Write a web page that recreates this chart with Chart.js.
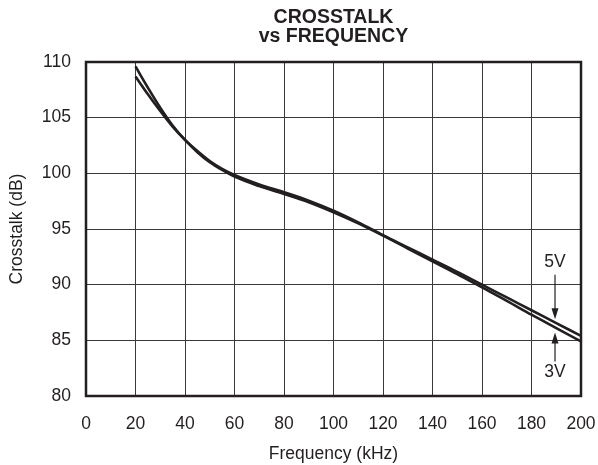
<!DOCTYPE html>
<html>
<head>
<meta charset="utf-8">
<script src="https://cdn.jsdelivr.net/npm/chart.js@4/dist/chart.umd.min.js"></script>
<style>
  html, body { margin: 0; padding: 0; background: #fff; }
  #wrap { width: 598px; height: 465px; }
</style>
</head>
<body>
<div id="wrap"><canvas id="crosstalk_chart" width="598" height="465"></canvas></div>
<script>
// values
var freqKHz = [20, 25, 30, 35, 40, 45, 50, 55, 60, 70, 80, 90, 100, 110, 120, 130, 140, 150, 160, 170, 180, 190, 200];
var crosstalk5V = [108.7, 107.1, 105.6, 104.2, 103.0, 102.0, 101.1, 100.4, 99.85, 99.0, 98.3, 97.55, 96.65, 95.6, 94.45, 93.35, 92.25, 91.15, 90.0, 88.85, 87.7, 86.55, 85.4];
var crosstalk3V = [109.6, 107.7, 105.9, 104.3, 103.0, 101.9, 101.0, 100.3, 99.7, 98.85, 98.15, 97.4, 96.5, 95.5, 94.4, 93.25, 92.1, 90.95, 89.75, 88.55, 87.3, 86.1, 84.9];
var xTicks = [0, 20, 40, 60, 80, 100, 120, 140, 160, 180, 200];
var yTicks = [80, 85, 90, 95, 100, 105, 110];
var titleLines = ['CROSSTALK', 'vs FREQUENCY'];

// supply labels with arrows: [label, text at dB, arrow from dB, arrow tip dB]
var markerFreq = 189.5;
var markers = [
	['5V', 92.0, 90.9, 86.9],
	['3V', 82.1, 83.1, 85.7]
];

var ink = '#231f20';
var fontFam = '"Liberation Sans", Arial, Helvetica, sans-serif';

function toPoints(ys) {
	return freqKHz.map(function(f, i) { return {x: f, y: ys[i]}; });
}

var framePlugin = {
	id: 'frame',
	afterDraw: function(chart) {
		var ctx = chart.ctx;
		var a = chart.chartArea;
		var xs = chart.scales.x, ys = chart.scales.y;
		ctx.save();
		ctx.strokeStyle = ink;
		ctx.lineWidth = 2.5;
		ctx.strokeRect(a.left, a.top, a.right - a.left, a.bottom - a.top);

		// title, centered over plot area
		ctx.fillStyle = ink;
		ctx.font = 'bold 19.5px ' + fontFam;
		ctx.textAlign = 'center';
		ctx.textBaseline = 'middle';
		var cx = (a.left + a.right) / 2;
		ctx.fillText(titleLines[0], cx, 17.5);
		ctx.fillText(titleLines[1], cx, 36.5);

		// 5V / 3V labels and arrows
		ctx.font = '17.5px ' + fontFam;
		ctx.lineWidth = 1.2;
		var px = xs.getPixelForValue(markerFreq);
		markers.forEach(function(m) {
			ctx.fillText(m[0], px, ys.getPixelForValue(m[1]));
			var y0 = ys.getPixelForValue(m[2]);
			var y1 = ys.getPixelForValue(m[3]);
			var dir = y1 > y0 ? 1 : -1;
			ctx.beginPath();
			ctx.moveTo(px, y0);
			ctx.lineTo(px, y1 - dir * 8);
			ctx.stroke();
			ctx.beginPath();
			ctx.moveTo(px, y1);
			ctx.lineTo(px - 3.5, y1 - dir * 11);
			ctx.lineTo(px + 3.5, y1 - dir * 11);
			ctx.closePath();
			ctx.fill();
		});
		ctx.restore();
	}
};

var lineStyle = {
	borderColor: ink,
	borderWidth: 2.6,
	pointRadius: 0,
	fill: false,
	cubicInterpolationMode: 'monotone'
};

new Chart(document.getElementById('crosstalk_chart'), {
	type: 'scatter',
	data: {
		datasets: [
			Object.assign({label: '5V', data: toPoints(crosstalk5V), showLine: true}, lineStyle),
			Object.assign({label: '3V', data: toPoints(crosstalk3V), showLine: true}, lineStyle)
		]
	},
	options: {
		responsive: false,
		animation: false,
		layout: { padding: { top: 62, right: 17, left: 0, bottom: 0 } },
		plugins: {
			legend: { display: false },
			title: { display: false },
			tooltip: { enabled: false }
		},
		scales: {
			x: {
				type: 'linear',
				min: 0, max: 200,
				afterFit: function(s) { s.height = 69; s.paddingLeft = 0; s.paddingRight = 0; },
				afterBuildTicks: function(s) { s.ticks = xTicks.map(function(v) { return {value: v}; }); },
				grid: { color: '#3a3a3a', lineWidth: 1, drawTicks: false },
				border: { display: false },
				ticks: { color: ink, font: { family: fontFam, size: 17.5 }, padding: 18, maxRotation: 0 },
				title: { display: true, text: 'Frequency (kHz)', color: ink, font: { family: fontFam, size: 17.5 }, padding: { top: 5, bottom: 0 } }
			},
			y: {
				type: 'linear',
				min: 80, max: 110,
				afterFit: function(s) { s.width = 86; },
				afterBuildTicks: function(s) { s.ticks = yTicks.map(function(v) { return {value: v}; }); },
				grid: { color: '#3a3a3a', lineWidth: 1, drawTicks: false },
				border: { display: false },
				ticks: { color: ink, font: { family: fontFam, size: 17.5 }, padding: 15 },
				title: { display: true, text: 'Crosstalk (dB)', color: ink, font: { family: fontFam, size: 17.5 }, padding: { top: 7, bottom: 0 } }
			}
		}
	},
	plugins: [framePlugin]
});
</script>
</body>
</html>
